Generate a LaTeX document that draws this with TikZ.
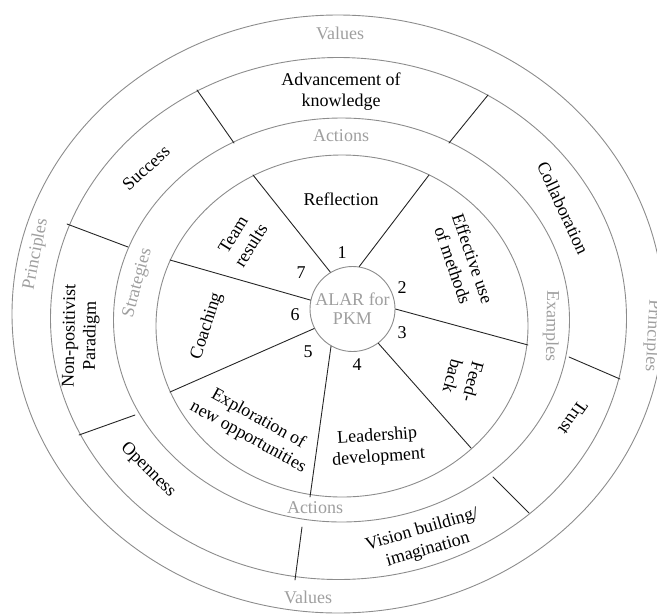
\documentclass[tikz,border=0pt]{standalone}
\usepackage{fontspec}
\setmainfont{Liberation Serif}
\begin{document}
\begin{tikzpicture}[line cap=round,line join=round,x=1pt,y=1pt,
  ring/.style={draw=gray!90,line width=0.9pt},
  cut/.style={draw=black!85,line width=0.9pt},
  lab/.style={font=\fontsize{18}{21}\selectfont,align=center,inner sep=0pt},
  tag/.style={lab,text=gray!75}]
\useasboundingbox (0,0) rectangle (657,-614);
\clip (0,0) rectangle (657,-614);
\draw[ring] (338,-314) ellipse [x radius=326,y radius=299];
\draw[ring] (338.5,-318.5) ellipse [x radius=288,y radius=261];
\draw[ring] (341.5,-320) ellipse [x radius=228,y radius=202];
\draw[ring] (342,-326) ellipse [x radius=186,y radius=171];
\node[circle,draw=gray!90,line width=0.9pt,fill=white,minimum size=85pt,inner sep=0pt,
  font=\fontsize{18}{19}\selectfont,align=center,text=gray!75] (alar) at (352.5,-309) {ALAR for\\PKM};
\draw[cut] (alar.121) -- (253,-175);
\draw[cut] (alar.81) -- (429,-175);
\draw[cut] (alar.0) -- (528,-345);
\draw[cut] (alar.-53) -- (471,-448);
\draw[cut] (alar.240.5) -- (310,-497);
\draw[cut] (alar.207.5) -- (170,-392);
\draw[cut] (alar.168.6) -- (170,-260);
\draw[cut] (234,-143) -- (197,-90);
\draw[cut] (449,-143) -- (488,-95);
\draw[cut] (128,-247) -- (67,-224);
\draw[cut] (135,-415) -- (79,-435);
\draw[cut] (302,-527) -- (295,-580);
\draw[cut] (493,-477) -- (529,-513);
\draw[cut] (569,-357) -- (620,-379);
\foreach \k/\x/\y in {1/342/253,2/402/288,3/402/333,4/357/365,5/308/352,6/295/315,7/301/273}
  \node[lab] (n\k) at (\x,-\y) {\k};
\node[tag] (values1) at (340,-33) {Values};
\node[tag] (values2) at (308,-597) {Values};
\node[tag] (actions1) at (341,-136) {Actions};
\node[tag] (actions2) at (315,-508) {Actions};
\node[tag,rotate=75] (strategies) at (138,-283) {Strategies};
\node[tag,rotate=-91] (examples) at (551,-326) {Examples};
\node[tag,rotate=79] (principles1) at (36,-254) {Principles};
\node[tag,rotate=-93] (principles2) at (652,-336) {Principles};
\node[lab] (advancement) at (341,-92) {Advancement of\\knowledge};
\node[lab] (reflection) at (341,-199) {Reflection};
\node[lab,rotate=58] (team) at (242,-240) {Team\\results};
\node[lab,rotate=-71] (methods) at (463,-262) {Effective use\\of methods};
\node[lab,rotate=-65] (collaboration) at (563,-208) {Collaboration};
\node[lab,rotate=42] (success) at (146,-168) {Success};
\node[lab,rotate=89] (paradigm) at (81,-336) {Non-positivist\\Paradigm};
\node[lab,rotate=72] (coaching) at (207,-326) {Coaching};
\node[lab,rotate=-29] (exploration) at (253,-428) {Exploration of\\new opportunities};
\node[lab,rotate=4] (leadership) at (378,-447) {Leadership\\development};
\node[lab,rotate=-105] (feedback) at (463,-379) {Feed-\\back};
\node[lab,rotate=-125] (trust) at (573,-418) {Trust};
\node[lab,rotate=-45] (openness) at (148,-470) {Openness};
\node[lab,rotate=16] (vision) at (425,-540) {Vision building/\\imagination};
\end{tikzpicture}
\end{document}
